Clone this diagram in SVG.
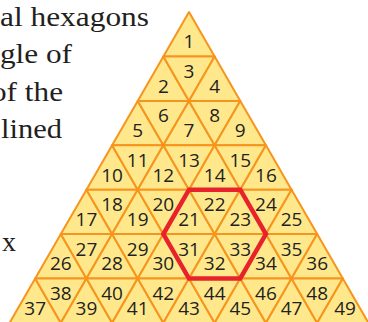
<svg xmlns="http://www.w3.org/2000/svg" width="368" height="322" viewBox="0 0 368 322">
<style>
.t{fill:#FFE88C;stroke:#F7941D;stroke-width:2;stroke-linejoin:round}
.n{font-family:"Open Sans","Noto Sans",sans-serif;font-size:19px;fill:#231F20;text-anchor:middle}
.p{font-family:"Liberation Serif","Times New Roman",serif;font-size:28px;fill:#231F20}
.hex{fill:none;stroke:#E8222A;stroke-width:4.5;stroke-linejoin:miter}
</style>
<rect width="368" height="322" fill="#FFFFFF"/>
<g id="prose">
<text class="p" x="0" y="26" textLength="149" lengthAdjust="spacingAndGlyphs">al hexagons</text>
<text class="p" x="0" y="63" textLength="72" lengthAdjust="spacingAndGlyphs">gle of</text>
<text class="p" x="-9" y="101" textLength="72" lengthAdjust="spacingAndGlyphs">of the</text>
<text class="p" x="1" y="138" textLength="61" lengthAdjust="spacingAndGlyphs">lined</text>
<text class="p" x="2" y="251">x</text>
</g>
<g id="t1"><polygon class="t" points="189,12.1 163.37,56.5 214.64,56.5"/><text class="n" x="189" y="48.3">1</text></g>
<g id="t2"><polygon class="t" points="163.37,56.5 137.73,100.9 189,100.9"/><text class="n" x="163.37" y="92.7">2</text></g>
<g id="t3"><polygon class="t" points="163.37,56.5 214.64,56.5 189,100.9"/><text class="n" x="189" y="77.9">3</text></g>
<g id="t4"><polygon class="t" points="214.64,56.5 189,100.9 240.27,100.9"/><text class="n" x="214.64" y="92.7">4</text></g>
<g id="t5"><polygon class="t" points="137.73,100.9 112.10,145.3 163.37,145.3"/><text class="n" x="137.73" y="137.1">5</text></g>
<g id="t6"><polygon class="t" points="137.73,100.9 189,100.9 163.37,145.3"/><text class="n" x="163.37" y="122.3">6</text></g>
<g id="t7"><polygon class="t" points="189,100.9 163.37,145.3 214.64,145.3"/><text class="n" x="189" y="137.1">7</text></g>
<g id="t8"><polygon class="t" points="189,100.9 240.27,100.9 214.64,145.3"/><text class="n" x="214.64" y="122.3">8</text></g>
<g id="t9"><polygon class="t" points="240.27,100.9 214.64,145.3 265.91,145.3"/><text class="n" x="240.27" y="137.1">9</text></g>
<g id="t10"><polygon class="t" points="112.10,145.3 86.46,189.7 137.73,189.7"/><text class="n" x="112.10" y="181.5">10</text></g>
<g id="t11"><polygon class="t" points="112.10,145.3 163.37,145.3 137.73,189.7"/><text class="n" x="137.73" y="166.7">11</text></g>
<g id="t12"><polygon class="t" points="163.37,145.3 137.73,189.7 189,189.7"/><text class="n" x="163.37" y="181.5">12</text></g>
<g id="t13"><polygon class="t" points="163.37,145.3 214.64,145.3 189,189.7"/><text class="n" x="189" y="166.7">13</text></g>
<g id="t14"><polygon class="t" points="214.64,145.3 189,189.7 240.27,189.7"/><text class="n" x="214.64" y="181.5">14</text></g>
<g id="t15"><polygon class="t" points="214.64,145.3 265.91,145.3 240.27,189.7"/><text class="n" x="240.27" y="166.7">15</text></g>
<g id="t16"><polygon class="t" points="265.91,145.3 240.27,189.7 291.54,189.7"/><text class="n" x="265.91" y="181.5">16</text></g>
<g id="t17"><polygon class="t" points="86.46,189.7 60.83,234.1 112.10,234.1"/><text class="n" x="86.46" y="225.9">17</text></g>
<g id="t18"><polygon class="t" points="86.46,189.7 137.73,189.7 112.10,234.1"/><text class="n" x="112.10" y="211.1">18</text></g>
<g id="t19"><polygon class="t" points="137.73,189.7 112.10,234.1 163.37,234.1"/><text class="n" x="137.73" y="225.9">19</text></g>
<g id="t20"><polygon class="t" points="137.73,189.7 189,189.7 163.37,234.1"/><text class="n" x="163.37" y="211.1">20</text></g>
<g id="t21"><polygon class="t" points="189,189.7 163.37,234.1 214.64,234.1"/><text class="n" x="189" y="225.9">21</text></g>
<g id="t22"><polygon class="t" points="189,189.7 240.27,189.7 214.64,234.1"/><text class="n" x="214.64" y="211.1">22</text></g>
<g id="t23"><polygon class="t" points="240.27,189.7 214.64,234.1 265.91,234.1"/><text class="n" x="240.27" y="225.9">23</text></g>
<g id="t24"><polygon class="t" points="240.27,189.7 291.54,189.7 265.91,234.1"/><text class="n" x="265.91" y="211.1">24</text></g>
<g id="t25"><polygon class="t" points="291.54,189.7 265.91,234.1 317.18,234.1"/><text class="n" x="291.54" y="225.9">25</text></g>
<g id="t26"><polygon class="t" points="60.83,234.1 35.19,278.5 86.46,278.5"/><text class="n" x="60.83" y="270.3">26</text></g>
<g id="t27"><polygon class="t" points="60.83,234.1 112.10,234.1 86.46,278.5"/><text class="n" x="86.46" y="255.5">27</text></g>
<g id="t28"><polygon class="t" points="112.10,234.1 86.46,278.5 137.73,278.5"/><text class="n" x="112.10" y="270.3">28</text></g>
<g id="t29"><polygon class="t" points="112.10,234.1 163.37,234.1 137.73,278.5"/><text class="n" x="137.73" y="255.5">29</text></g>
<g id="t30"><polygon class="t" points="163.37,234.1 137.73,278.5 189,278.5"/><text class="n" x="163.37" y="270.3">30</text></g>
<g id="t31"><polygon class="t" points="163.37,234.1 214.64,234.1 189,278.5"/><text class="n" x="189" y="255.5">31</text></g>
<g id="t32"><polygon class="t" points="214.64,234.1 189,278.5 240.27,278.5"/><text class="n" x="214.64" y="270.3">32</text></g>
<g id="t33"><polygon class="t" points="214.64,234.1 265.91,234.1 240.27,278.5"/><text class="n" x="240.27" y="255.5">33</text></g>
<g id="t34"><polygon class="t" points="265.91,234.1 240.27,278.5 291.54,278.5"/><text class="n" x="265.91" y="270.3">34</text></g>
<g id="t35"><polygon class="t" points="265.91,234.1 317.18,234.1 291.54,278.5"/><text class="n" x="291.54" y="255.5">35</text></g>
<g id="t36"><polygon class="t" points="317.18,234.1 291.54,278.5 342.81,278.5"/><text class="n" x="317.18" y="270.3">36</text></g>
<g id="t37"><polygon class="t" points="35.19,278.5 9.56,322.9 60.83,322.9"/><text class="n" x="35.19" y="314.7">37</text></g>
<g id="t38"><polygon class="t" points="35.19,278.5 86.46,278.5 60.83,322.9"/><text class="n" x="60.83" y="299.9">38</text></g>
<g id="t39"><polygon class="t" points="86.46,278.5 60.83,322.9 112.10,322.9"/><text class="n" x="86.46" y="314.7">39</text></g>
<g id="t40"><polygon class="t" points="86.46,278.5 137.73,278.5 112.10,322.9"/><text class="n" x="112.10" y="299.9">40</text></g>
<g id="t41"><polygon class="t" points="137.73,278.5 112.10,322.9 163.37,322.9"/><text class="n" x="137.73" y="314.7">41</text></g>
<g id="t42"><polygon class="t" points="137.73,278.5 189,278.5 163.37,322.9"/><text class="n" x="163.37" y="299.9">42</text></g>
<g id="t43"><polygon class="t" points="189,278.5 163.37,322.9 214.64,322.9"/><text class="n" x="189" y="314.7">43</text></g>
<g id="t44"><polygon class="t" points="189,278.5 240.27,278.5 214.64,322.9"/><text class="n" x="214.64" y="299.9">44</text></g>
<g id="t45"><polygon class="t" points="240.27,278.5 214.64,322.9 265.91,322.9"/><text class="n" x="240.27" y="314.7">45</text></g>
<g id="t46"><polygon class="t" points="240.27,278.5 291.54,278.5 265.91,322.9"/><text class="n" x="265.91" y="299.9">46</text></g>
<g id="t47"><polygon class="t" points="291.54,278.5 265.91,322.9 317.18,322.9"/><text class="n" x="291.54" y="314.7">47</text></g>
<g id="t48"><polygon class="t" points="291.54,278.5 342.81,278.5 317.18,322.9"/><text class="n" x="317.18" y="299.9">48</text></g>
<g id="t49"><polygon class="t" points="342.81,278.5 317.18,322.9 368.45,322.9"/><text class="n" x="345" y="314.7">49</text></g>
<g id="connectors">
<polygon id="hexagon" class="hex" points="189,189.7 240.27,189.7 265.91,234.1 240.27,278.5 189,278.5 163.37,234.1"/>
</g>
</svg>
